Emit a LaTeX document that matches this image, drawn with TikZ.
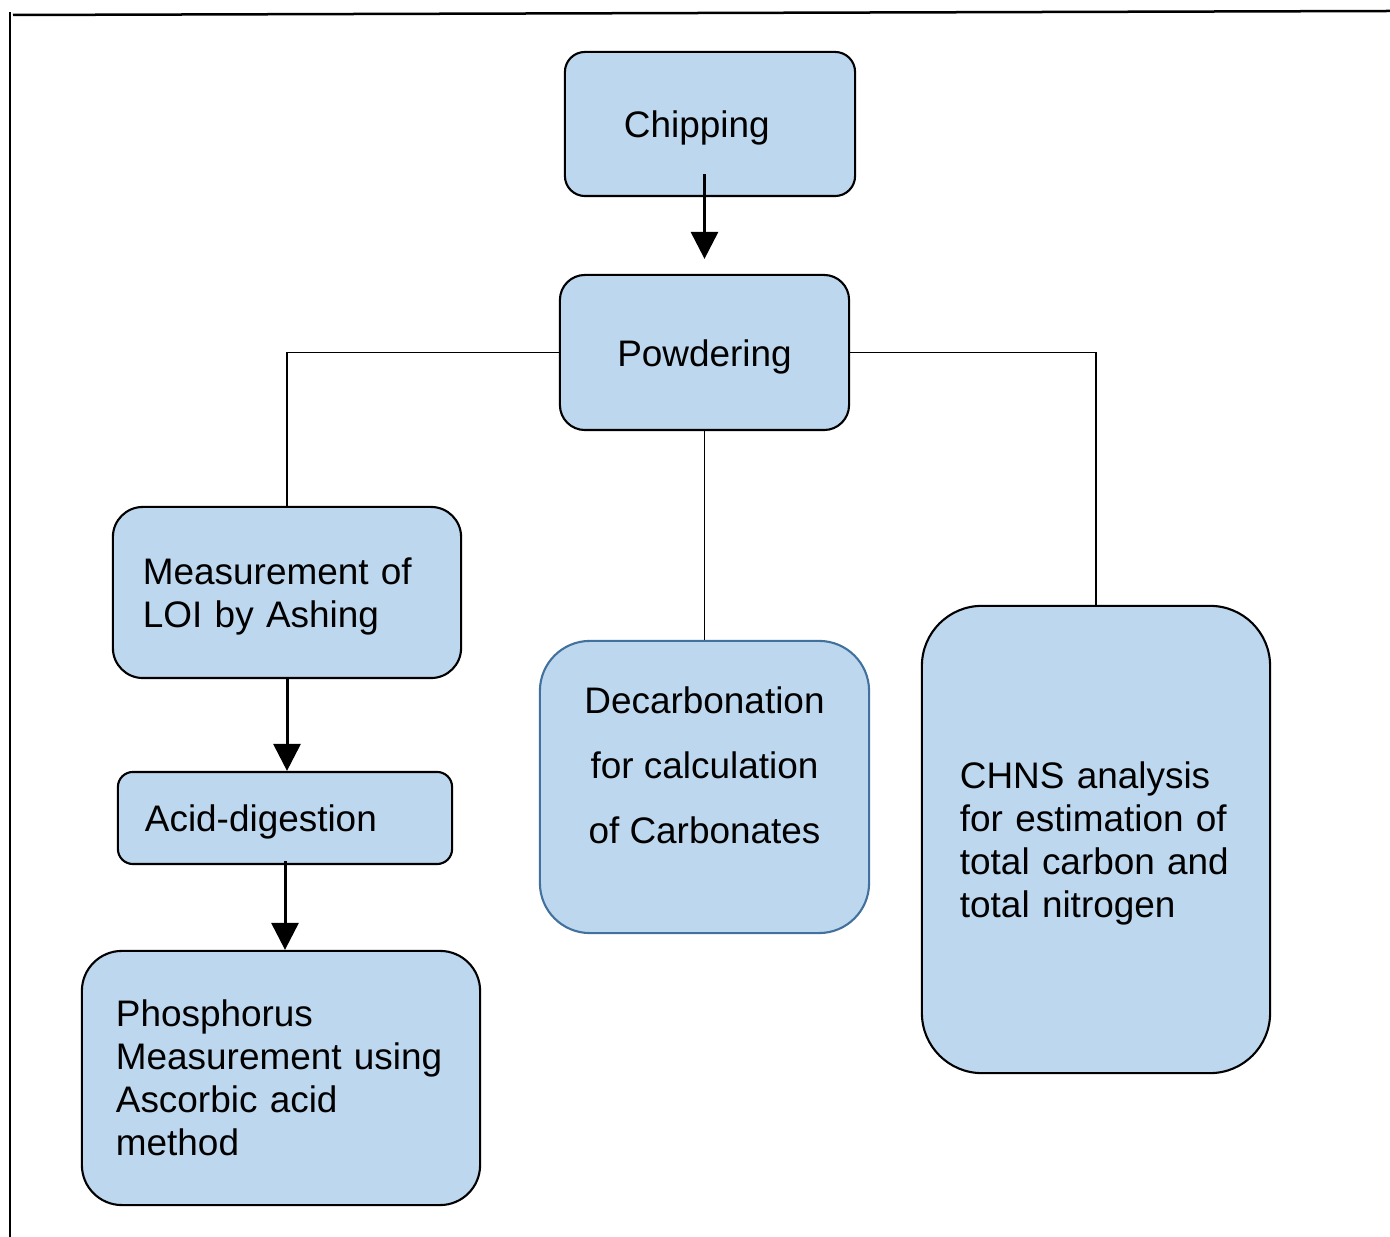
\documentclass[tikz,border=0pt]{standalone}
\usepackage{fontspec}
\setmainfont{Liberation Sans}
\usetikzlibrary{arrows.meta}

\begin{document}
\begin{tikzpicture}[x=0.01cm, y=-0.01cm,
    box/.style={draw=black, line width=0.21mm, fill=clr1, inner ysep=0pt,
      font=\fontsize{10.5pt}{12.2pt}\selectfont, align=left},
    padtop/.style={execute at begin node={\rule{0pt}{9.9pt}}},
    arr/.style={-{Triangle[length=0.27cm,width=0.27cm]}, line width=0.3mm},
    link/.style={line width=0.16mm}]
      \definecolor{clr1}{RGB}{189,215,238}
      \definecolor{clr2}{RGB}{65,113,156}
      \useasboundingbox (0, 0) rectangle (1390, 1237);

      % page frame
      \draw[line width=0.25mm] (13, 15) -- (1390, 11);
      \draw[line width=0.25mm] (10, 12) -- (10, 1237);

      \node[box, padtop, rounded corners=0.2cm, minimum height=1.44cm, text width=1.72cm, inner xsep=0.59cm] (chip) at (710, 124) {Chipping};
      \node[box, padtop, rounded corners=0.25cm, minimum height=1.55cm, minimum width=2.89cm, align=center] (powd) at (704.5, 352.5) {Powdering};

      \node[box, padtop, rounded corners=0.3cm, minimum height=1.71cm, text width=2.88cm, inner xsep=0.3cm] (loi) at (287, 592.5) {Measurement of\\LOI by Ashing};
      \node[box, padtop, rounded corners=0.15cm, minimum height=0.92cm, text width=2.8cm, inner xsep=0.27cm] (acid) at (285, 818) {Acid-digestion};
      \node[box, rounded corners=0.4cm, minimum height=2.54cm, text width=3.3cm, inner xsep=0.34cm] (phos) at (281, 1078) {Phosphorus\\Measurement using\\Ascorbic acid\\method};

      \node[box, draw=clr2, rounded corners=0.5cm, minimum height=2.92cm, minimum width=3.29cm] (decarb) at (704.5, 787) {};
      \node[font=\fontsize{10.5pt}{18.5pt}\selectfont, align=center] (dectxt) at (704.5, 765) {Decarbonation\\for calculation\\of Carbonates};

      \node[box, padtop, rounded corners=0.6cm, minimum height=4.67cm, text width=2.72cm, inner xsep=0.38cm] (chns) at (1096, 839.5) {CHNS analysis\\for estimation of\\total carbon and\\total nitrogen};

      % connectors
      \draw[arr, shorten <=-0.23cm, shorten >=0.15cm] (chip.south -| powd.north) -- (powd.north);
      \draw[link] (powd.west) -| (loi.north);
      \draw[link] (powd.east) -| (chns.north);
      \draw[link] (powd.south) -- (decarb.north);
      \draw[arr] (loi.south) -- (loi.south |- acid.north);
      \draw[arr, shorten <=-0.04cm] (acid.south) -- (acid.south |- phos.north);
    \end{tikzpicture}
\end{document}
